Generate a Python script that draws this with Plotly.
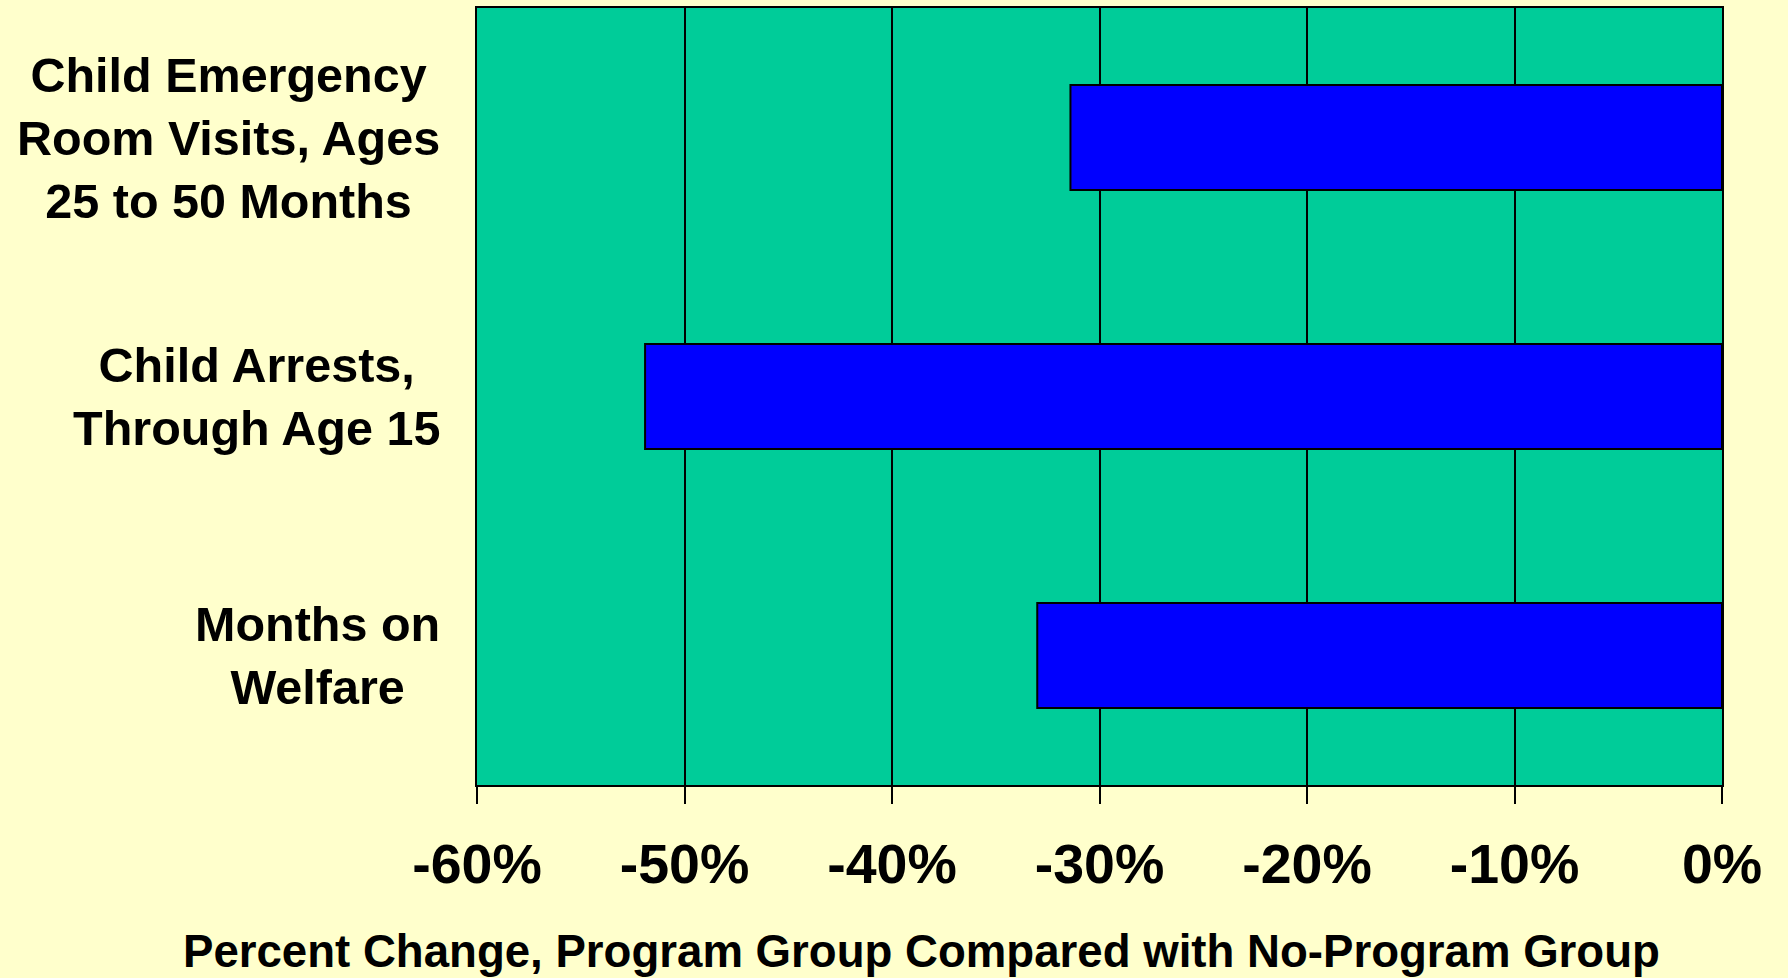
import plotly.graph_objects as go

categories = [
    "Child Emergency<br>Room Visits, Ages<br>25 to 50 Months",
    "Child Arrests,<br>Through Age 15",
    "Months on<br>Welfare",
]
values = [-0.314, -0.519, -0.330]
tick_vals = [-0.6, -0.5, -0.4, -0.3, -0.2, -0.1, 0.0]
tick_text = ["-60%", "-50%", "-40%", "-30%", "-20%", "-10%", "0%"]
x_title = "Percent Change, Program Group Compared with No-Program Group"

FONT = "Liberation Sans, Arial, sans-serif"

fig = go.Figure()
fig.add_trace(go.Bar(
    x=values,
    y=categories,
    orientation="h",
    marker=dict(color="#0000FF", line=dict(color="#000000", width=2)),
    width=0.405,
    hoverinfo="skip",
))

for cat in categories:
    fig.add_annotation(
        x=-0.028, xref="paper", y=cat, yref="y",
        text=cat, showarrow=False, xanchor="right", yanchor="middle",
        align="center",
        font=dict(family=FONT, size=48.5, color="#000000", weight="bold"),
    )

fig.add_annotation(
    x=0.357, xref="paper", y=-0.2144, yref="paper",
    text=x_title, showarrow=False, xanchor="center", yanchor="middle",
    font=dict(family=FONT, size=45.6, color="#000000", weight="bold"),
)

fig.update_layout(
    width=1788, height=978,
    margin=dict(l=477, r=66, t=6, b=193),
    paper_bgcolor="#FFFFCC",
    plot_bgcolor="#00CC99",
    showlegend=False,
    xaxis=dict(
        range=[-0.6, 0.0],
        tickvals=tick_vals, ticktext=tick_text,
        ticks="outside", ticklen=17, tickwidth=1.5, tickcolor="#000000",
        showgrid=True, gridcolor="#000000", gridwidth=1.5,
        showline=True, linecolor="#000000", linewidth=2, mirror=True,
        zeroline=False,
        tickfont=dict(family=FONT, size=55.5, color="#000000", weight="bold"),
        ticklabelstandoff=12,
        fixedrange=True,
    ),
    yaxis=dict(
        autorange="reversed",
        showticklabels=False,
        ticks="",
        showgrid=False,
        showline=True, linecolor="#000000", linewidth=2, mirror=True,
        fixedrange=True,
    ),
)

fig.write_html(
    "out.html",
    config={"displayModeBar": False},
    post_script="document.body.style.margin='0';document.body.style.overflow='hidden';",
)
